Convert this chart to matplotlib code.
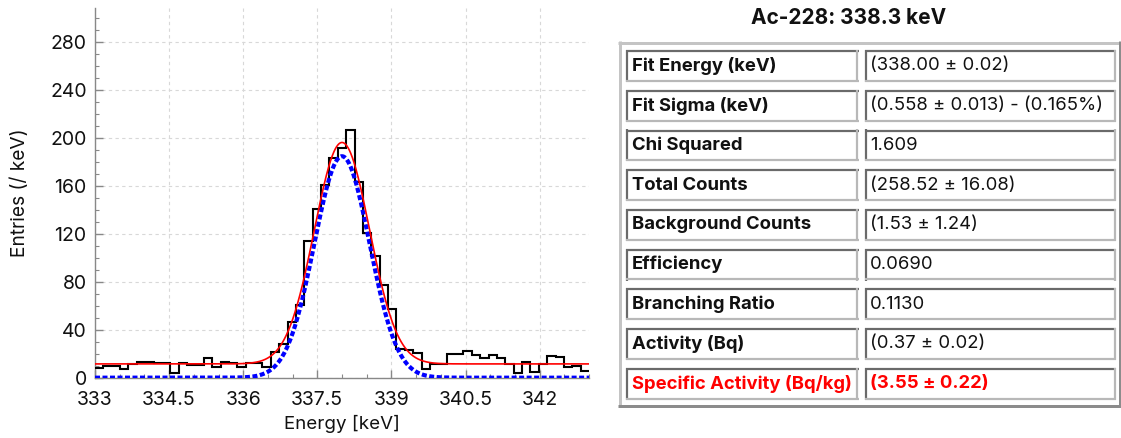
import numpy as np
import matplotlib
matplotlib.use("Agg")
import matplotlib.pyplot as plt
from matplotlib.ticker import MultipleLocator, FuncFormatter

# ---------------------------------------------------------------------------
# Spectrum around the Ac-228 338.3 keV line: 59 bins from 333 to 343 keV
# ---------------------------------------------------------------------------
energy_min = 333.0
energy_max = 343.0
entries_per_kev = [
    8.4, 9.8, 9.8, 7.0, 11.2, 13.4, 13.4, 12.0, 12.0, 4.2,
    12.0, 10.9, 10.9, 16.2, 9.2, 13.4, 12.0, 9.2, 12.0, 12.0,
    8.7, 21.6, 28.0, 46.4, 61.0, 114.3, 141.0, 161.0, 183.5, 192.0,
    206.7, 163.4, 120.8, 101.7, 77.0, 57.5, 24.0, 23.0, 21.0, 7.0,
    11.5, 11.5, 20.0, 20.0, 22.0, 19.0, 16.2, 19.0, 16.2, 11.5,
    4.2, 13.4, 5.0, 11.2, 18.0, 17.6, 8.7, 9.8, 5.6,
]

# Fit results
fit_energy = 338.00
fit_sigma = 0.558
peak_counts = 258.52
background_per_kev = 11.5

x_ticks = [333, 334.5, 336, 337.5, 339, 340.5, 342]
y_ticks = [0, 40, 80, 120, 160, 200, 240, 280]

# Summary table
table_title = "Ac-228: 338.3 keV"
row_labels = [
    "Fit Energy (keV)",
    "Fit Sigma (keV)",
    "Chi Squared",
    "Total Counts",
    "Background Counts",
    "Efficiency",
    "Branching Ratio",
    "Activity (Bq)",
    "Specific Activity (Bq/kg)",
]
row_values = [
    "(338.00 \u00b1 0.02)",
    "(0.558 \u00b1 0.013) - (0.165%)",
    "1.609",
    "(258.52 \u00b1 16.08)",
    "(1.53 \u00b1 1.24)",
    "0.0690",
    "0.1130",
    "(0.37 \u00b1 0.02)",
    "(3.55 \u00b1 0.22)",
]
highlight_row = 8

plt.rcParams["font.family"] = ["Inter", "DejaVu Sans"]

W, H = 1121, 438
fig = plt.figure(figsize=(W / 100, H / 100), dpi=100)

# ---------------------------------------------------------------------------
# Spectrum panel
# ---------------------------------------------------------------------------
ax_l, ax_r, ax_t, ax_b = 95, 589, 8.3, 377.7
ax = fig.add_axes([ax_l / W, 1 - ax_b / H, (ax_r - ax_l) / W, (ax_b - ax_t) / H])

values = np.array(entries_per_kev)
edges = np.linspace(energy_min, energy_max, len(values) + 1)
ax.stairs(values, edges, baseline=None, color="black", lw=1.5, zorder=3)

x = np.linspace(energy_min, energy_max, 1500)
amplitude = peak_counts / (fit_sigma * np.sqrt(2 * np.pi))
peak = amplitude * np.exp(-0.5 * ((x - fit_energy) / fit_sigma) ** 2)
ax.plot(x, peak, color="#0000ff", lw=3.0, linestyle=(0, (1.2, 0.6)), zorder=4)
ax.plot(x, peak + background_per_kev, color="#ff0000", lw=1.2, zorder=5)

ax.set_xlim(energy_min, energy_max)
ax.set_ylim(0, 308.3)
ax.set_xticks(x_ticks)
ax.set_yticks(y_ticks)
ax.xaxis.set_major_formatter(FuncFormatter(lambda v, p: f"{v:g}"))
ax.xaxis.set_minor_locator(MultipleLocator(0.5))
ax.yaxis.set_minor_locator(MultipleLocator(10))
ax.tick_params(which="both", direction="in", color="#888888", labelsize=14,
               labelcolor="#111111")
ax.tick_params(which="major", length=6, width=1)
ax.tick_params(which="minor", length=3, width=0.8)
ax.tick_params(axis="y", pad=6)
ax.tick_params(axis="x", pad=9.5)
for side in ("top", "right"):
    ax.spines[side].set_visible(False)
for side in ("left", "bottom"):
    ax.spines[side].set_color("#888888")
    ax.spines[side].set_linewidth(1.0)
ax.grid(True, which="major", color="#d8d8d8", linestyle=(0, (3, 3)), lw=0.8)
ax.set_axisbelow(True)

fig.text(342 / W, 1 - 424 / H, "Energy [keV]", ha="center", va="center",
         fontsize=13.5, color="#111111")
fig.text(20 / W, 1 - 193 / H, "Entries (/ keV)", ha="center", va="center",
         rotation=90, fontsize=13.8, color="#111111")

# ---------------------------------------------------------------------------
# Summary table, drawn in pixel coordinates
# ---------------------------------------------------------------------------
tab = fig.add_axes([0, 0, 1, 1], zorder=-1)
tab.set_xlim(0, W)
tab.set_ylim(H, 0)
tab.axis("off")

PT = 0.72  # points per pixel at 100 dpi


def hline(x0, x1, y, px, color):
    tab.plot([x0, x1], [y, y], color=color, lw=px * PT, solid_capstyle="butt")


def vline(x, y0, y1, px, color):
    tab.plot([x, x], [y0, y1], color=color, lw=px * PT, solid_capstyle="butt")


def bevel_box(x0, y0, x1, y1, px, light, dark, raised):
    top_left = light if raised else dark
    bottom_right = dark if raised else light
    h = px / 2
    hline(x0, x1, y0 + h, px, top_left)
    vline(x0 + h, y0, y1, px, top_left)
    hline(x0, x1, y1 - h, px, bottom_right)
    vline(x1 - h, y0, y1, px, bottom_right)


tab.text(849, 18, table_title, ha="center", va="center", fontsize=15,
         fontweight="bold", color="#111111")

bevel_box(618, 41, 1121, 407, 3, "#c4c4c4", "#8c8c8c", raised=True)

row_top0, row_pitch, row_h = 50, 39.7, 32
for i, (label, value) in enumerate(zip(row_labels, row_values)):
    top = row_top0 + i * row_pitch
    bot = top + row_h
    bevel_box(626, top, 858.5, bot, 2.2, "#b8b8b8", "#6a6a6a", raised=False)
    bevel_box(864.5, top, 1116, bot, 2.2, "#b8b8b8", "#6a6a6a", raised=False)
    color = "#ff0000" if i == highlight_row else "#111111"
    mid = (top + bot) / 2
    tab.text(632, mid, label, ha="left", va="center", fontsize=13.3,
             fontweight="bold", color=color)
    tab.text(870, mid, value, ha="left", va="center", fontsize=13.3,
             fontweight="bold" if i == highlight_row else "normal", color=color)

fig.savefig("out.png", dpi=100)
